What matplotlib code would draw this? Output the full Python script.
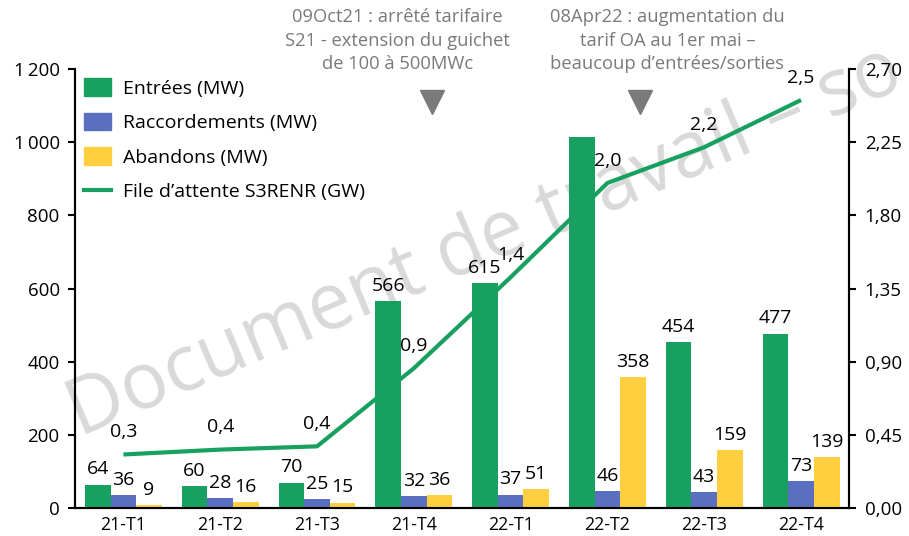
import matplotlib
matplotlib.use("Agg")
import matplotlib.pyplot as plt
import numpy as np
from matplotlib.ticker import FuncFormatter, MultipleLocator
from matplotlib.patches import Patch
from matplotlib.lines import Line2D

plt.rcParams['font.family'] = ['Open Sans', 'DejaVu Sans']

# Data
quarters = ["21-T1", "21-T2", "21-T3", "21-T4", "22-T1", "22-T2", "22-T3", "22-T4"]
entrees = [64, 60, 70, 566, 615, 1015, 454, 477]
raccordements = [36, 28, 25, 32, 37, 46, 43, 73]
abandons = [9, 16, 15, 36, 51, 358, 159, 139]
file_attente = [0.33, 0.36, 0.38, 0.86, 1.42, 2.00, 2.22, 2.51]
hidden_labels = {"entrees": [5]}  # label not shown on the 22-T2 green bar

events_x = [3.19, 5.34]
events_text = [
    "09Oct21 : arrêté tarifaire\nS21 - extension du guichet\nde 100 à 500MWc",
    "08Apr22 : augmentation du\ntarif OA au 1er mai –\nbeaucoup d’entrées/sorties",
]
events_text_x = [2.83, 5.62]

green = "#18a060"
blue = "#5a6fbf"
yellow = "#ffcf40"
grey = "#7a7a7a"

fig = plt.figure(figsize=(9.09, 5.36), dpi=100)
ax = fig.add_axes([0.0825, 0.052, 0.852, 0.819])
ax.set_facecolor("none")
ax2 = ax.twinx()

x = np.arange(len(quarters))
w = 0.265

# line behind bars
ax2.plot(x, file_attente, color=green, lw=3, zorder=1, solid_capstyle='butt')
ax2.set_ylim(0, 2.7)
ax.set_zorder(ax2.get_zorder() + 1)
ax.patch.set_visible(False)

ax.bar(x - w, entrees, w, color=green, zorder=2)
ax.bar(x, raccordements, w, color=blue, zorder=2)
ax.bar(x + w, abandons, w, color=yellow, zorder=2)

fs = 14
for i, v in enumerate(entrees):
    if i in hidden_labels["entrees"]:
        continue
    ax.annotate(str(v), (x[i] - w, v), xytext=(0, 11), textcoords="offset points",
                ha="center", va="center", fontsize=fs)
for i, v in enumerate(raccordements):
    ax.annotate(str(v), (x[i], v), xytext=(0, 11), textcoords="offset points",
                ha="center", va="center", fontsize=fs)
for i, v in enumerate(abandons):
    ax.annotate(str(v), (x[i] + w, v), xytext=(0, 11), textcoords="offset points",
                ha="center", va="center", fontsize=fs)
for i, v in enumerate(file_attente):
    ax2.annotate(f"{v:.1f}".replace(".", ","), (x[i], v), xytext=(0, 16),
                 textcoords="offset points", ha="center", va="center", fontsize=fs)

ax.set_xlim(-0.5, len(quarters) - 0.5)
ax.set_ylim(0, 1200)
ax.yaxis.set_major_locator(MultipleLocator(200))
ax.yaxis.set_major_formatter(FuncFormatter(lambda v, p: format(int(v), ",").replace(",", "\u2009")))
ax2.yaxis.set_major_locator(MultipleLocator(0.45))
ax2.yaxis.set_major_formatter(FuncFormatter(lambda v, p: f"{v:.2f}".replace(".", ",")))

ax.set_xticks(x)
ax.set_xticklabels(quarters)
ax.tick_params(axis="x", length=0, pad=6, labelsize=12.8)
ax.tick_params(axis="y", length=5, width=1.5, pad=6, labelsize=13.5)
ax2.tick_params(axis="y", length=5, width=1.5, pad=6, labelsize=13.5)

for a in (ax, ax2):
    a.spines["top"].set_visible(False)
    for s in ("left", "right", "bottom"):
        a.spines[s].set_linewidth(1.5)

# event markers and notes
for ex, et, tx in zip(events_x, events_text, events_text_x):
    ax.plot([ex], [1110], marker="v", ms=17, color=grey, clip_on=False, zorder=3)
    ax.text(tx, 1278, et, ha="center", va="center", fontsize=13.2, color=grey,
            linespacing=1.38)

handles = [Patch(color=green), Patch(color=blue), Patch(color=yellow),
           Line2D([], [], color=green, lw=3)]
labels = ["Entrées (MW)", "Raccordements (MW)", "Abandons (MW)", "File d’attente S3RENR (GW)"]
ax.legend(handles, labels, loc="upper left", frameon=False, fontsize=fs,
          handlelength=1.4, handleheight=1.0, labelspacing=0.78, handletextpad=0.6,
          bbox_to_anchor=(-0.006, 1.01), borderaxespad=0.3)

# watermark
fig.text(0.088, 0.185, "Document de travail – so", fontsize=56, color="#d9d9d9",
         rotation=23, rotation_mode="anchor",
         ha="left", va="baseline", zorder=-1)

fig.savefig("out.png", dpi=100)
